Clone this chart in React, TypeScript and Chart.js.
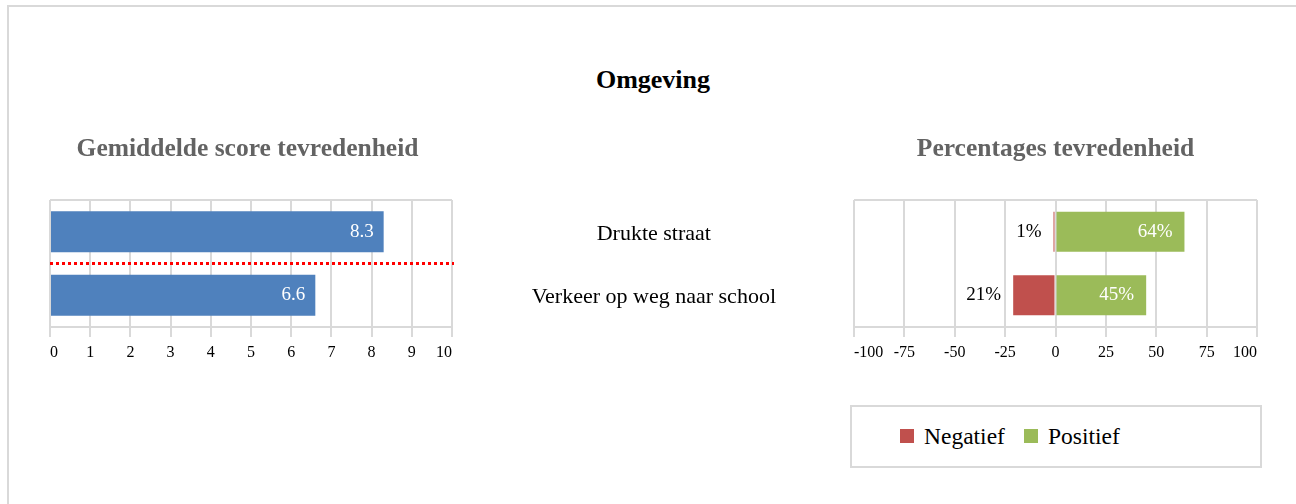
import React, { useEffect, useRef } from "react";
import { Chart, registerables } from "chart.js";

Chart.register(...registerables);

// ---- data ----
const categories = ["Drukte straat", "Verkeer op weg naar school"];
const scores = [8.3, 6.6];
const negatief = [-1, -21];
const positief = [64, 45];
const scoreTickValues = [0, 1, 2, 3, 4, 5, 6, 7, 8, 9, 10];
const pctTickValues = [-100, -75, -50, -25, 0, 25, 50, 75, 100];
const seriesLabels = ["Negatief", "Positief"];

// ---- styles ----
const FONT = "'Liberation Serif', 'Times New Roman', serif";
const BLUE = "#4F81BD";
const RED = "#C0504D";
const GREEN = "#9BBB59";
const GRID = "#d9d9d9";
const SUBTITLE = "#636363";

function valueLabelPlugin(fmt: (v: number) => string, pad: number, size: number) {
  return {
    id: "valueLabels",
    afterDatasetsDraw(chart: any) {
      const ctx = chart.ctx;
      chart.data.datasets.forEach((ds: any, di: number) => {
        const meta = chart.getDatasetMeta(di);
        meta.data.forEach((el: any, i: number) => {
          const v = ds.data[i] as number;
          const { x, y, base } = el.getProps(["x", "y", "base"], true);
          ctx.save();
          ctx.font = `${size}px ${FONT}`;
          ctx.textBaseline = "middle";
          ctx.textAlign = "right";
          if (v >= 0) {
            ctx.fillStyle = "#ffffff";
            ctx.fillText(fmt(v), Math.max(x, base) - pad, y);
          } else {
            ctx.fillStyle = "#000000";
            ctx.fillText(fmt(-v), Math.min(x, base) - pad, y);
          }
          ctx.restore();
        });
      });
    },
  };
}

const refLinePlugin = {
  id: "refLine",
  afterDatasetsDraw(chart: any) {
    const ys = chart.scales.y;
    const { left, right } = chart.chartArea;
    const y = (ys.getPixelForValue(0) + ys.getPixelForValue(1)) / 2;
    const ctx = chart.ctx;
    ctx.save();
    ctx.strokeStyle = "#FF0000";
    ctx.lineWidth = 3;
    ctx.setLineDash([3, 3]);
    ctx.beginPath();
    ctx.moveTo(left, y);
    ctx.lineTo(right + 2, y);
    ctx.stroke();
    ctx.restore();
  },
};

const yGridColor = (c: any) => (c.index === 1 ? "rgba(0,0,0,0)" : GRID);

export default function App() {
  const leftRef = useRef<HTMLCanvasElement | null>(null);
  const rightRef = useRef<HTMLCanvasElement | null>(null);

  useEffect(() => {
    const left = new Chart(leftRef.current as HTMLCanvasElement, {
      type: "bar",
      data: {
        labels: categories,
        datasets: [
          {
            label: "Gemiddelde score",
            data: scores,
            backgroundColor: BLUE,
            barPercentage: 0.645,
            categoryPercentage: 1,
          },
        ],
      },
      options: {
        indexAxis: "y",
        animation: false,
        responsive: false,
        layout: { padding: { left: 43, right: 48, top: 0, bottom: 0 } },
        plugins: {
          legend: { display: false },
          tooltip: { enabled: false },
          title: {
            display: true,
            text: "Gemiddelde score tevredenheid",
            fullSize: true,
            color: SUBTITLE,
            font: { family: FONT, size: 25.5, weight: "bold", lineHeight: 1.2 },
            padding: { top: 14, bottom: 35.4 },
          },
        },
        scales: {
          x: {
            min: scoreTickValues[0],
            max: scoreTickValues[scoreTickValues.length - 1],
            ticks: {
              stepSize: scoreTickValues[1] - scoreTickValues[0],
              align: "inner",
              color: "#000",
              font: { family: FONT, size: 16 },
              padding: 6,
            },
            grid: { color: GRID, lineWidth: 2, tickLength: 10 },
            border: { color: GRID, width: 2 },
            afterFit: (s: any) => {
              s.height = 53;
            },
          },
          y: {
            ticks: { display: false },
            grid: { offset: true, drawTicks: false, color: yGridColor, lineWidth: 2 },
            border: { display: false },
            afterFit: (s: any) => {
              s.width = 7;
              s.paddingTop = 0;
              s.paddingBottom = 0;
            },
          },
        },
      } as any,
      plugins: [valueLabelPlugin((v) => v.toFixed(1), 10, 19), refLinePlugin],
    });

    const right = new Chart(rightRef.current as HTMLCanvasElement, {
      type: "bar",
      data: {
        labels: categories,
        datasets: [
          {
            label: seriesLabels[0],
            data: negatief,
            backgroundColor: RED,
            barPercentage: 0.63,
            categoryPercentage: 1,
          },
          {
            label: seriesLabels[1],
            data: positief,
            backgroundColor: GREEN,
            barPercentage: 0.63,
            categoryPercentage: 1,
          },
        ],
      },
      options: {
        indexAxis: "y",
        animation: false,
        responsive: false,
        layout: { padding: { left: 0, right: 39, top: 0, bottom: 0 } },
        plugins: {
          legend: { display: false },
          tooltip: { enabled: false },
          title: {
            display: true,
            text: "Percentages tevredenheid",
            fullSize: false,
            color: SUBTITLE,
            font: { family: FONT, size: 25.5, weight: "bold", lineHeight: 1.2 },
            padding: { top: 14, bottom: 35.4 },
          },
        },
        scales: {
          x: {
            stacked: true,
            min: pctTickValues[0],
            max: pctTickValues[pctTickValues.length - 1],
            ticks: {
              stepSize: pctTickValues[1] - pctTickValues[0],
              align: "inner",
              color: "#000",
              font: { family: FONT, size: 16 },
              padding: 6,
            },
            grid: { color: GRID, lineWidth: 2, tickLength: 10 },
            border: { color: GRID, width: 2 },
            afterFit: (s: any) => {
              s.height = 53;
            },
          },
          y: {
            stacked: true,
            ticks: {
              crossAlign: "center",
              padding: 78,
              color: "#000",
              font: { family: FONT, size: 22 },
              labelOffset: 2,
            },
            grid: { offset: true, drawTicks: false, color: yGridColor, lineWidth: 2 },
            border: { display: false },
            afterFit: (s: any) => {
              s.width = 402;
              s.paddingTop = 0;
              s.paddingBottom = 0;
            },
          },
        },
      } as any,
      plugins: [valueLabelPlugin((v) => `${Math.round(v)}%`, 12, 19)],
    });

    return () => {
      left.destroy();
      right.destroy();
    };
  }, []);

  const legendColors = [RED, GREEN];

  return (
    <div
      style={{
        position: "absolute",
        left: 0,
        top: 0,
        width: 1296,
        height: 504,
        overflow: "hidden",
        background: "#fff",
        fontFamily: FONT,
      }}
    >
      <div
        style={{
          position: "absolute",
          left: 7,
          top: 5,
          width: 1320,
          height: 540,
          border: `2px solid ${GRID}`,
          boxSizing: "border-box",
        }}
      />
      <div
        style={{
          position: "absolute",
          left: 0,
          top: 65,
          width: 1306,
          height: 30,
          lineHeight: "30px",
          textAlign: "center",
          fontSize: 26,
          fontWeight: "bold",
          color: "#000",
        }}
      >
        Omgeving
      </div>
      <canvas
        ref={leftRef}
        width={500}
        height={260}
        style={{ position: "absolute", left: 0, top: 120, width: 500, height: 260 }}
      />
      <canvas
        ref={rightRef}
        width={844}
        height={260}
        style={{ position: "absolute", left: 452, top: 120, width: 844, height: 260 }}
      />
      <div
        style={{
          position: "absolute",
          left: 850,
          top: 405,
          width: 412,
          height: 63,
          border: `2px solid ${GRID}`,
          boxSizing: "border-box",
        }}
      >
        {seriesLabels.map((lab, i) => (
          <div
            key={lab}
            style={{
              position: "absolute",
              left: 48 + i * 124,
              top: 14,
              height: 30,
              display: "flex",
              alignItems: "center",
              fontSize: 23.5,
              color: "#000",
              whiteSpace: "nowrap",
            }}
          >
            <span
              style={{
                display: "inline-block",
                width: 14,
                height: 14,
                background: legendColors[i],
                marginRight: 10,
              }}
            />
            {lab}
          </div>
        ))}
      </div>
    </div>
  );
}
